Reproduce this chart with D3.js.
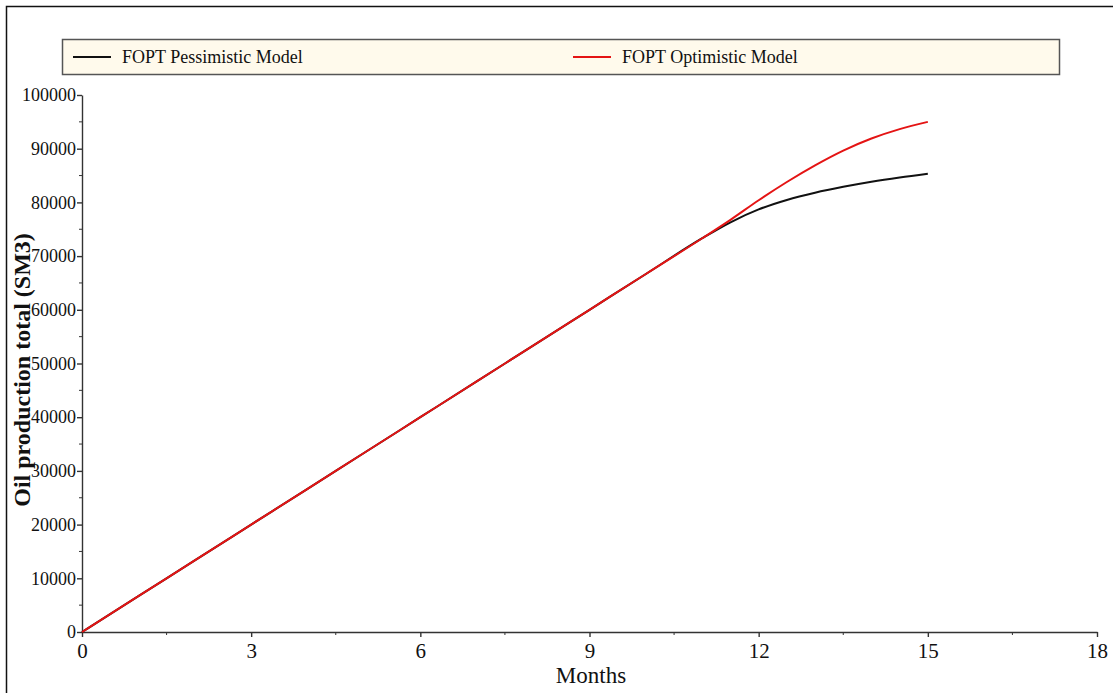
<!DOCTYPE html>
<html>
<head>
<meta charset="utf-8">
<script src="https://cdn.jsdelivr.net/npm/d3@7"></script>
<style>
  body { margin: 0; background: #fff; }
  text { font-family: "Liberation Serif", "DejaVu Serif", serif; fill: #111; }
</style>
</head>
<body>
<div id="chart"></div>
<script>
'use strict'

// months and cumulative oil production (SM3)
var months = [0, 1, 2, 3, 4, 5, 6, 7, 8, 9, 10, 11, 11.5, 12, 12.5, 13, 13.5, 14, 14.5, 15]
var pessimistic = [0, 6670, 13330, 20000, 26670, 33330, 40000, 46670, 53330, 60000, 66670, 73330,
                   76300, 78700, 80450, 81800, 82900, 83850, 84650, 85350]
var optimistic = [0, 6670, 13330, 20000, 26670, 33330, 40000, 46670, 53330, 60000, 66670, 73330,
                  76750, 80400, 83800, 86900, 89650, 91900, 93650, 95000]

var xTicks = [0, 3, 6, 9, 12, 15, 18]
var yTicks = [0, 10000, 20000, 30000, 40000, 50000, 60000, 70000, 80000, 90000, 100000]
var seriesNames = ["FOPT Pessimistic Model", "FOPT Optimistic Model"]
var seriesColors = ["#111111", "#e41414"]

var width = 1113, height = 693
var margin = {left: 82, right: 16, top: 95, bottom: 61}

var svg = d3.select('#chart').append('svg')
  .attr('width', width)
  .attr('height', height)

// frame of the picture (top and left edge)
svg.append('path')
  .attr('d', 'M6.5,' + height + 'V6.5H' + width)
  .style('fill', 'none')
  .style('stroke', '#111')
  .style('stroke-width', 1.5)

var x = d3.scaleLinear().domain([0, 18]).range([margin.left, width - margin.right])
var y = d3.scaleLinear().domain([0, 100000]).range([height - margin.bottom, margin.top])

// x axis: major ticks with labels, minor ones in between
var xAxis = svg.append('g')
  .attr('transform', 'translate(0,' + y(0) + ')')
  .call(d3.axisBottom(x).tickValues(xTicks).tickSize(5).tickSizeOuter(0).tickFormat(d3.format('d')))
xAxis.selectAll('.tick text')
  .attr('y', 11)
  .style('font-size', '21px')
  .style('font-family', '"Liberation Serif", serif')
  .style('fill', '#111')
xAxis.append('g').selectAll('line')
  .data(d3.range(1.5, 18, 3)).enter()
  .append('line')
  .attr('x1', function(d){ return x(d) })
  .attr('x2', function(d){ return x(d) })
  .attr('y1', 0)
  .attr('y2', 3)
  .style('stroke', '#333')

var yAxis = svg.append('g')
  .attr('transform', 'translate(' + x(0) + ',0)')
  .call(d3.axisLeft(y).tickValues(yTicks).tickSize(5).tickSizeOuter(0).tickFormat(d3.format('d')))
yAxis.selectAll('.tick text')
  .attr('x', -6)
  .style('font-size', '18px')
  .style('font-family', '"Liberation Serif", serif')
  .style('fill', '#111')
yAxis.append('g').selectAll('line')
  .data(d3.range(5000, 100000, 10000)).enter()
  .append('line')
  .attr('y1', function(d){ return y(d) })
  .attr('y2', function(d){ return y(d) })
  .attr('x1', -3)
  .attr('x2', 1)
  .style('stroke', '#333')

svg.selectAll('.domain, .tick line')
  .style('stroke', '#333')
  .style('stroke-width', 1.4)

// axis titles
svg.append('text')
  .attr('x', 591)
  .attr('y', 683)
  .attr('text-anchor', 'middle')
  .style('font-size', '23px')
  .text('Months')

svg.append('text')
  .attr('transform', 'translate(30,370) rotate(-90)')
  .attr('text-anchor', 'middle')
  .style('font-size', '24px')
  .style('font-weight', 'bold')
  .text('Oil production total (SM3)')

// lines
var line = d3.line()
  .x(function(d){ return x(d[0]) })
  .y(function(d){ return y(d[1]) })
  .curve(d3.curveMonotoneX)

var series = [pessimistic, optimistic]
series.forEach(function(values, i){
  svg.append('path')
    .datum(months.map(function(m, j){ return [m, values[j]] }))
    .attr('d', line)
    .style('fill', 'none')
    .style('stroke', seriesColors[i])
    .style('stroke-width', 2)
})

// legend box on top
var legend = svg.append('g')
legend.append('rect')
  .attr('x', 62.5)
  .attr('y', 39.5)
  .attr('width', 997)
  .attr('height', 35)
  .style('fill', '#fffaec')
  .style('stroke', '#555')
  .style('stroke-width', 1.5)

var legendX = [73, 573]
seriesNames.forEach(function(name, i){
  legend.append('line')
    .attr('x1', legendX[i])
    .attr('x2', legendX[i] + 38)
    .attr('y1', 57)
    .attr('y2', 57)
    .style('stroke', seriesColors[i])
    .style('stroke-width', 2)
  legend.append('text')
    .attr('x', legendX[i] + 49)
    .attr('y', 63)
    .style('font-size', '18px')
    .text(name)
})
</script>
</body>
</html>
